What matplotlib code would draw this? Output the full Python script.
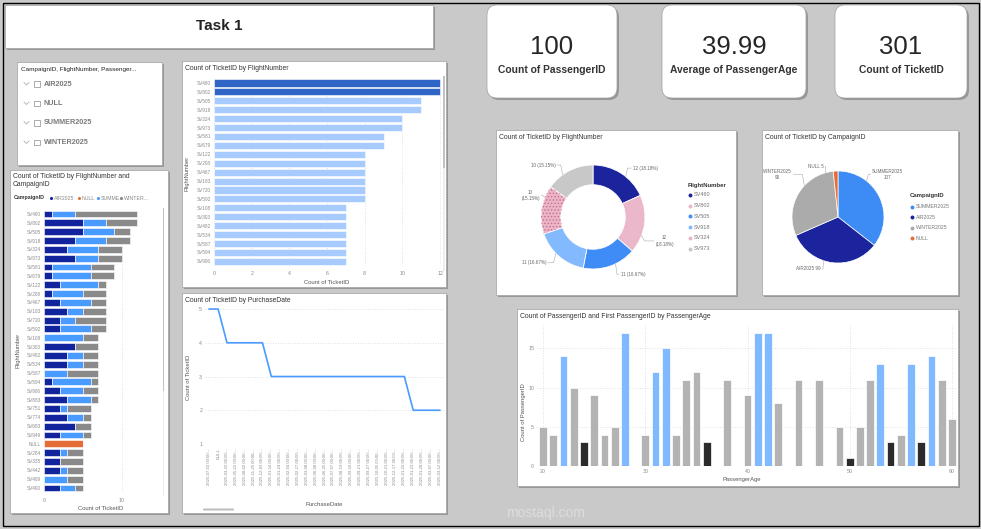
import numpy as np
import matplotlib
matplotlib.use('Agg')
import matplotlib.pyplot as plt
from matplotlib.patches import Rectangle, FancyBboxPatch

plt.rcParams['font.family'] = ['Liberation Sans', 'DejaVu Sans']
plt.rcParams['hatch.linewidth'] = 0.6

# ---------------- data ----------------
kpi_values = ['100', '39.99', '301']
kpi_labels = ['Count of PassengerID', 'Average of PassengerAge', 'Count of TicketID']

campaigns = ['AIR2025', 'NULL', 'SUMMER2025', 'WINTER2025']

flights = ['SV460', 'SV802', 'SV505', 'SV918', 'SV324', 'SV973', 'SV581', 'SV679',
           'SV122', 'SV208', 'SV467', 'SV183', 'SV720', 'SV592', 'SV108', 'SV303',
           'SV482', 'SV534', 'SV587', 'SV594', 'SV906', 'SV883', 'SV751', 'SV774',
           'SV683', 'SV949', 'NULL', 'SV284', 'SV335', 'SV442', 'SV409', 'SV490']
air_tickets = [1, 5, 5, 4, 3, 4, 1, 1, 2, 1, 2, 3, 2, 2, 0, 4,
               3, 3, 0, 1, 2, 3, 2, 3, 4, 2, 0, 2, 2, 2, 0, 2]
null_tickets = [0, 0, 0, 0, 0, 0, 0, 0, 0, 0, 0, 0, 0, 0, 0, 0,
                0, 0, 0, 0, 0, 0, 0, 0, 0, 0, 5, 0, 0, 0, 0, 0]
summer_tickets = [3, 3, 4, 4, 4, 3, 5, 5, 5, 4, 4, 2, 2, 4, 5, 0,
                  2, 2, 3, 5, 3, 3, 1, 2, 0, 3, 0, 1, 0, 1, 3, 2]
winter_tickets = [8, 4, 2, 3, 3, 3, 3, 3, 1, 3, 2, 3, 4, 2, 2, 3,
                  2, 2, 4, 1, 2, 1, 3, 1, 2, 1, 0, 2, 3, 2, 2, 1]

top_flights = ['SV460', 'SV802', 'SV505', 'SV918', 'SV324', 'SV973', 'SV581',
               'SV679', 'SV122', 'SV208', 'SV467', 'SV183', 'SV720', 'SV592',
               'SV108', 'SV303', 'SV482', 'SV534', 'SV587', 'SV594', 'SV906']
top_flight_tickets = [12, 12, 11, 11, 10, 10, 9, 9, 8, 8, 8, 8, 8, 8, 7, 7, 7, 7, 7, 7, 7]

purchase_dates = ['2025-07-03 00:00:...', 'NULL', '2025-03-22 00:00:...', '2025-05-22 00:00:...',
                  '2025-08-02 00:00:...', '2025-11-25 00:00:...', '2025-12-03 00:00:...',
                  '2025-01-10 00:00:...', '2025-01-24 00:00:...', '2025-02-04 00:00:...',
                  '2025-02-27 00:00:...', '2025-03-08 00:00:...', '2025-06-08 00:00:...',
                  '2025-06-25 00:00:...', '2025-07-07 00:00:...', '2025-08-19 00:00:...',
                  '2025-09-10 00:00:...', '2025-09-21 00:00:...', '2025-09-27 00:00:...',
                  '2025-10-05 00:00:...', '2025-10-21 00:00:...', '2025-12-17 00:00:...',
                  '2025-01-22 00:00:...', '2025-01-23 00:00:...', '2025-01-28 00:00:...',
                  '2025-03-07 00:00:...', '2025-03-12 00:00:...']
tickets_by_date = [5, 5, 4, 4, 4, 4, 4, 3, 3, 3, 3, 3, 3, 3, 3, 3,
                   3, 3, 3, 3, 3, 3, 3, 2, 2, 2, 2]

pie_campaigns = ['SUMMER2025', 'AIR2025', 'WINTER2025', 'NULL']
pie_tickets = [107, 99, 90, 5]

ages = [20, 21, 22, 23, 24, 25, 26, 27, 28, 30, 31, 32, 33, 34, 35, 36, 38, 40,
        41, 42, 43, 45, 47, 49, 50, 51, 52, 53, 54, 55, 56, 57, 58, 59, 60]
age_counts = [5, 4, 14, 10, 3, 9, 4, 5, 17, 4, 12, 15, 4, 11, 12, 3, 11, 9,
              17, 17, 8, 11, 11, 5, 1, 5, 11, 13, 3, 4, 13, 3, 14, 11, 6]
age_group = ['g', 'g', 'b', 'g', 'k', 'g', 'g', 'g', 'b', 'g', 'b', 'b', 'g', 'g',
             'g', 'k', 'g', 'g', 'b', 'b', 'g', 'g', 'g', 'g', 'k', 'g', 'g', 'b',
             'k', 'g', 'b', 'k', 'b', 'g', 'g']

# ---------------- layout helpers ----------------
W, H = 981, 529
fig = plt.figure(figsize=(W / 100, H / 100), dpi=100, facecolor='#C9C9C9')
bg = fig.add_axes([0, 0, 1, 1], zorder=-5)
bg.set_xlim(0, W)
bg.set_ylim(H, 0)
bg.axis('off')

TXT = '#333333'
TICK = '#8A8A8A'
GRID = dict(color='#D6D6D6', lw=0.6, ls=(0, (1, 2)))


def panel(x0, y0, x1, y1, rounded=0):
    style = f'round,pad=0,rounding_size={rounded}' if rounded else 'square,pad=0'
    bg.add_patch(FancyBboxPatch((x0 + 2, y0 + 2), x1 - x0, y1 - y0, boxstyle=style,
                                fc='#6E6E6E', ec='none', alpha=0.55))
    bg.add_patch(FancyBboxPatch((x0, y0), x1 - x0, y1 - y0, boxstyle=style,
                                fc='white', ec='#A0A0A0', lw=0.5))


def px_axes(x0, y0, x1, y1):
    ax = fig.add_axes([x0 / W, 1 - y1 / H, (x1 - x0) / W, (y1 - y0) / H])
    ax.set_facecolor('none')
    for s in ax.spines.values():
        s.set_visible(False)
    ax.tick_params(length=0, labelsize=3.8, labelcolor=TICK, pad=2)
    ax.set_axisbelow(True)
    return ax


# outer frame
bg.add_patch(Rectangle((2.5, 2.5), 976, 523, fc='none', ec='black', lw=1.0))

# ---------------- title ----------------
panel(5, 5, 433, 48)
bg.text(219, 26, 'Task 1', ha='center', va='center', fontsize=11, fontweight='bold', color='#222222')

# ---------------- KPI cards ----------------
cards = [(487, 617), (662, 806), (835, 967)]
for (x0, x1), val, lab in zip(cards, kpi_values, kpi_labels):
    panel(x0, 5, x1, 98, rounded=10)
    cx = (x0 + x1) / 2
    bg.text(cx, 47.5, val, ha='center', va='center', fontsize=18.5, color='#252525')
    bg.text(cx, 70, lab, ha='center', va='center', fontsize=7.4, fontweight='bold',
            color='#333333')

# ---------------- slicer ----------------
panel(17, 62, 162, 165)
bg.text(21, 70, 'CampaignID, FlightNumber, Passenger...', fontsize=4.6, color='#222222', va='center')
for i, c in enumerate(campaigns):
    yy = 84 + i * 19.5
    bg.plot([24, 26.5, 29], [yy - 1.5, yy + 1, yy - 1.5], color='#B0B0B0', lw=0.6)
    bg.add_patch(Rectangle((34, yy - 3), 5.5, 5.5, fc='white', ec='#8C8C8C', lw=0.5))
    bg.text(44, yy, c, fontsize=5.2, fontweight='bold', color='#7A7A7A', va='center')

# ---------------- stacked bar: tickets by flight and campaign ----------------
panel(10, 170, 168, 513)
bg.text(13, 172.5, 'Count of TicketID by FlightNumber and\nCampaignID', fontsize=4.9, color=TXT,
        va='top', linespacing=1.25)
camp_colors = ['#12239E', '#E66C37', '#4A9BFF', '#8A8A8A']
bg.text(14, 198, 'CampaignID', fontsize=3.8, color='#333333', va='center', fontweight='bold')
leg_x = [51, 79, 98, 121]
leg_txt = ['AIR2025', 'NULL', 'SUMME...', 'WINTER...']
for lx, lt, col in zip(leg_x, leg_txt, camp_colors):
    bg.scatter([lx], [198], s=5, color=col, lw=0)
    bg.text(lx + 2.5, 198, lt, fontsize=3.8, color='#888888', va='center')

ax = px_axes(44, 209.6, 160.6, 492.4)
y = np.arange(len(flights))
left = np.zeros(len(flights))
for vals, col in zip([air_tickets, null_tickets, summer_tickets, winter_tickets], camp_colors):
    ax.barh(y, vals, left=left, height=0.78, color=col, edgecolor='white', linewidth=0.4)
    left += np.array(vals)
ax.set_ylim(len(flights) - 0.5, -0.5)
ax.set_xlim(0, 15)
ax.set_yticks(y, flights)
ax.set_xticks([0, 10])
ax.tick_params(axis='y', labelsize=3.4)
ax.tick_params(axis='x', labelsize=3.8, pad=4)
ax.grid(axis='x', **GRID)
ax.grid(axis='y', visible=False)
bg.text(101, 508, 'Count of TicketID', fontsize=4.2, color='#555555', ha='center', va='center')
bg.text(18, 350, 'FlightNumber', fontsize=4.2, color='#555555', ha='center', va='center', rotation=90)
bg.add_patch(Rectangle((162.5, 208), 1.6, 288, fc='#EDEDED', ec='none'))
bg.add_patch(Rectangle((162.5, 208), 1.6, 183, fc='#C2C2C2', ec='none'))

# ---------------- bar: tickets by flight ----------------
panel(182, 61, 446, 287)
bg.text(185, 65.5, 'Count of TicketID by FlightNumber', fontsize=4.9, color=TXT, va='top')
ax = px_axes(214, 78.5, 441, 265.8)
y = np.arange(len(top_flights))
bar_cols = ['#2F65C4' if v == max(top_flight_tickets) else '#A8CBFF' for v in top_flight_tickets]
ax.barh(y, top_flight_tickets, height=0.8, color=bar_cols, edgecolor='white', linewidth=0.4)
ax.set_ylim(len(top_flights) - 0.5, -0.5)
ax.set_xlim(0, 12.05)
ax.set_yticks(y, top_flights)
ax.set_xticks(range(0, 13, 2))
ax.tick_params(axis='y', labelsize=3.4)
ax.tick_params(axis='x', pad=4)
ax.grid(axis='x', **GRID)
bg.text(327, 282, 'Count of TicketID', fontsize=4.2, color='#555555', ha='center', va='center')
bg.text(187, 173, 'FlightNumber', fontsize=4.2, color='#555555', ha='center', va='center', rotation=90)
bg.add_patch(Rectangle((443, 76), 1.6, 195, fc='#EDEDED', ec='none'))
bg.add_patch(Rectangle((443, 76), 1.6, 92, fc='#C2C2C2', ec='none'))

# ---------------- line: tickets by purchase date ----------------
panel(182, 293, 446, 513)
bg.text(185, 297, 'Count of TicketID by PurchaseDate', fontsize=4.9, color=TXT, va='top')
ax = px_axes(205, 305, 444, 444)
x = np.arange(len(purchase_dates))
ax.plot(x, tickets_by_date, color='#4A9BFF', lw=1.2)
ax.set_xlim(-0.48, len(purchase_dates) - 0.53)
ax.set_ylim(1, 5.12)
ax.set_yticks([1, 2, 3, 4, 5])
ax.set_xticks(x, purchase_dates, rotation=90)
ax.tick_params(axis='x', labelsize=3.1, pad=3)
ax.grid(axis='y', **GRID)
bg.text(188, 377, 'Count of TicketID', fontsize=4.2, color='#555555', ha='center', va='center', rotation=90)
bg.text(324, 505, 'PurchaseDate', fontsize=4.2, color='#555555', ha='center', va='center')
bg.add_patch(FancyBboxPatch((203, 508.5), 31, 2, boxstyle='round,pad=0,rounding_size=1',
                            fc='#BDBDBD', ec='none'))

# ---------------- donut: tickets by flight (top 6) ----------------
panel(496, 130, 736, 295)
bg.text(499, 134, 'Count of TicketID by FlightNumber', fontsize=4.9, color=TXT, va='top')
donut_flights = top_flights[:6]
donut_vals = top_flight_tickets[:6]
donut_cols = ['#1B249C', '#EBB8CB', '#3F8CF7', '#82B9FF', '#EBB5C7', '#C8C8C8']
R = 52.0
ax = fig.add_axes([(593 - 62) / W, 1 - (217 + 62) / H, 124 / W, 124 / H])
ax.pie(donut_vals, colors=donut_cols, startangle=90, counterclock=False,
       radius=1, wedgeprops=dict(width=0.38, edgecolor='white', linewidth=0.6))
# dotted fill on the SV324 segment
ax.pie(donut_vals, colors=['none'] * 6, startangle=90, counterclock=False, radius=1,
       wedgeprops=dict(width=0.38, linewidth=0),
       hatch=['', '', '', '', '.....', ''])
for w in ax.patches[6:]:
    w.set_edgecolor('#C56F8C')
ax.set_xlim(-62 / R, 62 / R)
ax.set_ylim(-62 / R, 62 / R)
ax.set_aspect('equal')
ax.axis('off')
total = sum(donut_vals)
donut_lab_pos = [(0.76, 0.94, 'left'), (1.2, -0.46, 'left'), (0.53, -1.1, 'left'),
                 (-0.9, -0.88, 'right'), (-1.02, 0.42, 'right'), (-0.72, 1.0, 'right')]
for v, (lx, ly, ha) in zip(donut_vals, donut_lab_pos):
    pct = f'{v} ({v / total * 100:.2f}%)'
    if abs(ly) < 0.6:
        pct = pct.replace(' ', '\n', 1)
    ang = np.arctan2(ly, lx)
    ex, ey = np.cos(ang), np.sin(ang)
    sgn = 1 if ha == 'left' else -1
    ax.plot([ex, ex * 1.06, lx - sgn * 0.03], [ey, ly, ly], color='#AAAAAA', lw=0.4, clip_on=False)
    ax.text(lx, ly, pct, ha=ha, va='center', fontsize=3.3, color='#666666',
            multialignment='center', linespacing=1.3)
bg.text(688, 185, 'FlightNumber', fontsize=4.3, fontweight='bold', color='#333333', va='center')
for i, (f, col) in enumerate(zip(donut_flights, donut_cols)):
    yy = 195 + i * 10.7
    bg.scatter([690], [yy], s=8, color=col, lw=0)
    bg.text(694, yy, f, fontsize=4.0, color='#777777', va='center')

# ---------------- pie: tickets by campaign ----------------
panel(762, 130, 958, 295)
bg.text(765, 134, 'Count of TicketID by CampaignID', fontsize=4.9, color=TXT, va='top')
pie_cols = ['#3D8BF5', '#1B249C', '#ABABAB', '#E66C37']
R = 46.0
ax = fig.add_axes([(838 - 62) / W, 1 - (217 + 62) / H, 124 / W, 124 / H])
ax.pie(pie_tickets, colors=pie_cols, startangle=90, counterclock=False, radius=1,
       wedgeprops=dict(edgecolor='white', linewidth=0.5))
ax.set_xlim(-62 / R, 62 / R)
ax.set_ylim(-62 / R, 62 / R)
ax.set_aspect('equal')
ax.axis('off')
pie_lab_pos = [(0.74, 0.93, 'left', True), (-0.37, -1.13, 'right', False),
               (-1.0, 0.93, 'right', True), (-0.3, 1.1, 'right', False)]
for name, v, (lx, ly, ha, wrap) in zip(pie_campaigns, pie_tickets, pie_lab_pos):
    lab = f'{name}\n{v}' if wrap else f'{name} {v}'
    ang = np.arctan2(ly, lx if abs(lx) > 0.2 else lx * 0.3)
    ex, ey = np.cos(ang), np.sin(ang)
    sgn = 1 if ha == 'left' else -1
    ax.plot([ex, ex * 1.06, lx - sgn * 0.03], [ey, ly, ly], color='#AAAAAA', lw=0.4, clip_on=False)
    ax.text(lx, ly, lab, ha=ha, va='center', fontsize=3.3, color='#666666',
            multialignment='center', linespacing=1.3)
bg.text(910, 196, 'CampaignID', fontsize=4.3, fontweight='bold', color='#333333', va='center')
for i, (c, col) in enumerate(zip(pie_campaigns, pie_cols)):
    yy = 206.5 + i * 10.6
    bg.scatter([912], [yy], s=8, color=col, lw=0)
    bg.text(915.5, yy, c, fontsize=3.7, color='#777777', va='center')

# ---------------- bar: passengers by age ----------------
panel(517, 309, 958, 486)
bg.text(520, 313, 'Count of PassengerID and First PassengerID by PassengerAge', fontsize=4.9,
        color=TXT, va='top')
ax = px_axes(537, 324.7, 957, 466)
group_cols = {'g': '#B3B3B3', 'b': '#80B9FF', 'k': '#2B2B2B'}
ax.bar(ages, age_counts, width=0.76, color=[group_cols[g] for g in age_group],
       edgecolor='white', linewidth=0.5)
ax.set_xlim(19.4, 60.5)
ax.set_ylim(0, 18)
ax.set_yticks([0, 5, 10, 15])
ax.set_xticks([20, 30, 40, 50, 60])
ax.grid(axis='both', **GRID)
bg.text(523, 412, 'Count of PassengerID', fontsize=4.2, color='#555555', ha='center', va='center', rotation=90)
bg.text(742, 479, 'PassengerAge', fontsize=4.2, color='#555555', ha='center', va='center')

# watermark
bg.text(545, 513, 'mostaql.com', fontsize=10, color='#E2E2E2', ha='center', va='center', alpha=0.8)

fig.savefig('out.png', dpi=100, facecolor=fig.get_facecolor())
